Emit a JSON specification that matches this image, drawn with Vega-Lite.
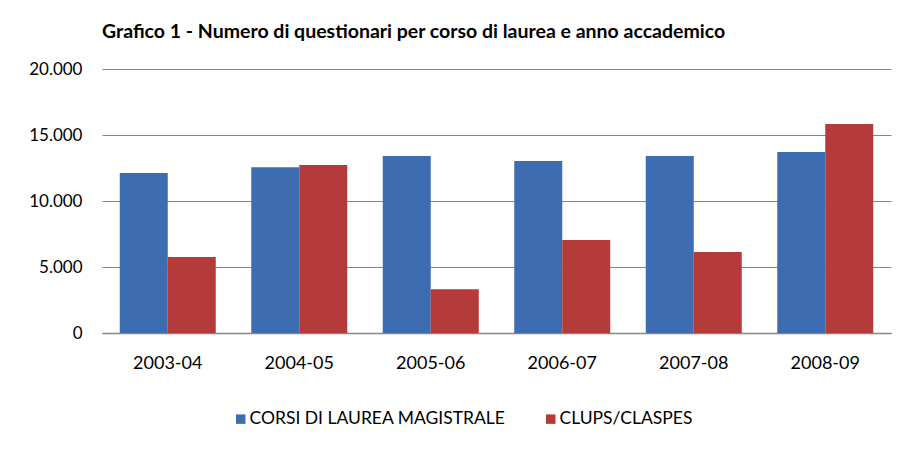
{
  "$schema": "https://vega.github.io/schema/vega-lite/v6.json",
  "width": 789,
  "height": 264,
  "autosize": {"type": "none"},
  "padding": {"left": 102, "top": 69, "right": 23, "bottom": 118},
  "background": "white",
  "title": {
    "text": "Grafico 1 - Numero di questionari per corso di laurea e anno accademico",
    "anchor": "start",
    "frame": "group",
    "offset": 18,
    "font": "Lato",
    "fontSize": 19.5,
    "fontWeight": "bold",
    "color": "#000000"
  },
  "data": {
    "values": [
      {"anno": "2003-04", "tipo": "CORSI DI LAUREA MAGISTRALE", "n": 12120},
      {"anno": "2003-04", "tipo": "CLUPS/CLASPES", "n": 5760},
      {"anno": "2004-05", "tipo": "CORSI DI LAUREA MAGISTRALE", "n": 12550},
      {"anno": "2004-05", "tipo": "CLUPS/CLASPES", "n": 12730},
      {"anno": "2005-06", "tipo": "CORSI DI LAUREA MAGISTRALE", "n": 13410},
      {"anno": "2005-06", "tipo": "CLUPS/CLASPES", "n": 3310},
      {"anno": "2006-07", "tipo": "CORSI DI LAUREA MAGISTRALE", "n": 13030},
      {"anno": "2006-07", "tipo": "CLUPS/CLASPES", "n": 7050},
      {"anno": "2007-08", "tipo": "CORSI DI LAUREA MAGISTRALE", "n": 13410},
      {"anno": "2007-08", "tipo": "CLUPS/CLASPES", "n": 6140},
      {"anno": "2008-09", "tipo": "CORSI DI LAUREA MAGISTRALE", "n": 13710},
      {"anno": "2008-09", "tipo": "CLUPS/CLASPES", "n": 15830}
    ]
  },
  "mark": {"type": "bar"},
  "encoding": {
    "x": {
      "field": "anno",
      "type": "nominal",
      "scale": {"paddingInner": 0.27, "paddingOuter": 0.135},
      "axis": {
        "title": null,
        "labelAngle": 0,
        "ticks": false,
        "domain": true,
        "domainColor": "#868686",
        "domainWidth": 1.5,
        "labelFont": "Lato",
        "labelFontSize": 18,
        "labelColor": "#000000",
        "labelPadding": 21
      }
    },
    "xOffset": {
      "field": "tipo",
      "type": "nominal",
      "sort": ["CORSI DI LAUREA MAGISTRALE", "CLUPS/CLASPES"]
    },
    "y": {
      "field": "n",
      "type": "quantitative",
      "scale": {"domain": [0, 20000], "nice": false},
      "axis": {
        "title": null,
        "values": [0, 5000, 10000, 15000, 20000],
        "grid": true,
        "gridColor": "#868686",
        "gridWidth": 1.2,
        "gridOpacity": 1,
        "domain": false,
        "ticks": false,
        "labelFont": "Lato",
        "labelFontSize": 17,
        "labelColor": "#000000",
        "labelPadding": 20,
        "labelExpr": "replace(format(datum.value, ','), ',', '.')"
      }
    },
    "color": {
      "field": "tipo",
      "type": "nominal",
      "scale": {
        "domain": ["CORSI DI LAUREA MAGISTRALE", "CLUPS/CLASPES"],
        "range": ["#3D6DB0", "#B43B39"]
      },
      "legend": {
        "title": null,
        "orient": "none",
        "direction": "horizontal",
        "legendX": 130,
        "legendY": 341,
        "symbolType": "square",
        "symbolSize": 90,
        "symbolStrokeWidth": 0,
        "symbolOpacity": 1,
        "labelFont": "Lato",
        "labelFontSize": 17.5,
        "labelColor": "#000000",
        "labelOffset": 0,
        "columnPadding": 36,
        "labelLimit": 400
      }
    }
  },
  "config": {
    "view": {"stroke": null}
  }
}
